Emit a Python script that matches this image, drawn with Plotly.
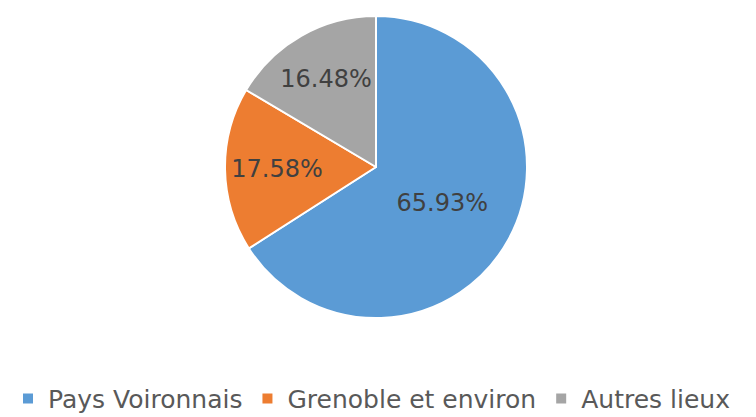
import plotly.graph_objects as go

labels = ["Pays Voironnais", "Grenoble et environ", "Autres lieux"]
values = [60, 16, 15]
colors = ["#5B9BD5", "#ED7D31", "#A5A5A5"]

W, H = 756, 417
cx, cy, r = 368, 159, 151

fig = go.Figure(go.Pie(
    labels=labels, values=values, sort=False, direction="clockwise", rotation=0,
    marker=dict(colors=colors, line=dict(color="white", width=2)),
    texttemplate="%{percent:.2%}", textposition="inside",
    insidetextorientation="horizontal",
    textfont=dict(size=24, color="#404040", family="DejaVu Sans"),
    domain=dict(x=[(cx - r) / W, (cx + r) / W], y=[1 - (cy + r) / H, 1 - (cy - r) / H]),
    hoverinfo="label+percent",
))
fig.update_layout(
    width=W, height=H, margin=dict(l=0, r=0, t=0, b=0),
    paper_bgcolor="white", plot_bgcolor="white",
    legend=dict(orientation="h", x=0.478, xanchor="center", y=0.008, yanchor="bottom",
                font=dict(size=25, color="#595959", family="DejaVu Sans"),
                itemwidth=30, traceorder="normal"),
)
fig.write_html("out.html")
